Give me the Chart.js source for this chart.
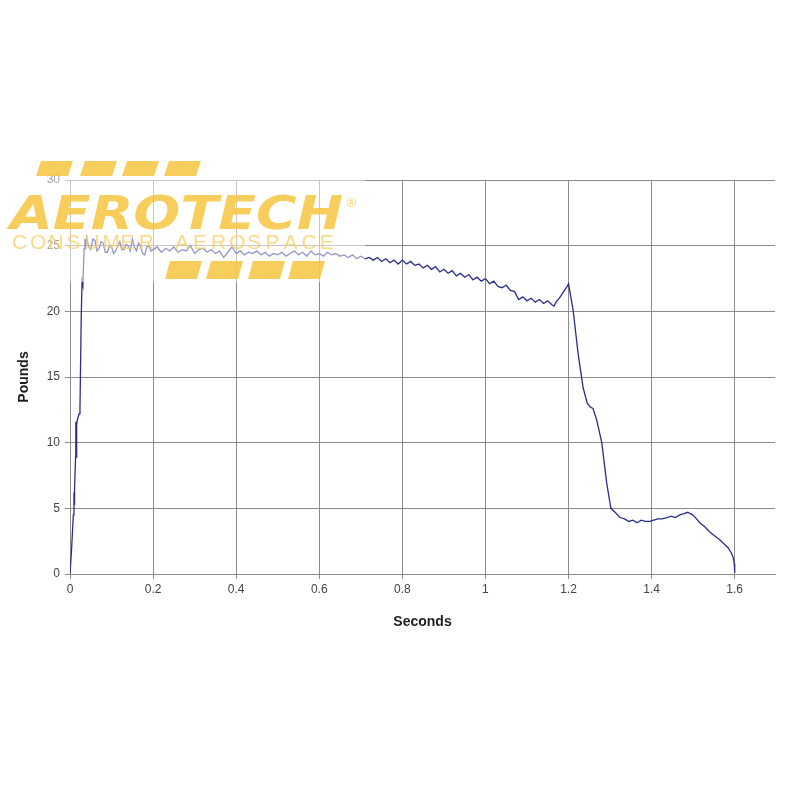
<!DOCTYPE html>
<html>
<head>
<meta charset="utf-8">
<title>Thrust curve</title>
<script src="https://cdn.jsdelivr.net/npm/chart.js@4/dist/chart.umd.min.js"></script>
<style>
  body { margin: 0; background: #fff; }
  canvas { display: block; }
</style>
</head>
<body>
<canvas id="chart" width="800" height="800"></canvas>
<script>
// Thrust samples
const seconds = [
  0, 0.004, 0.008, 0.0095, 0.010, 0.011, 0.0135, 0.014, 0.015, 0.016, 0.018, 0.022, 0.024,
  0.027, 0.029, 0.031, 0.034, 0.036, 0.038,
  0.04, 0.045, 0.05, 0.055, 0.06, 0.065, 0.07, 0.075, 0.08, 0.085, 0.09, 0.095,
  0.10, 0.105, 0.11, 0.115, 0.12, 0.125, 0.13, 0.135, 0.14, 0.145, 0.15, 0.155,
  0.16, 0.165, 0.17, 0.175, 0.18, 0.185, 0.19, 0.195,
  0.20, 0.21, 0.22, 0.23, 0.24, 0.25, 0.26, 0.27, 0.28, 0.29,
  0.30, 0.31, 0.32, 0.33, 0.34, 0.35, 0.36, 0.37, 0.38, 0.39,
  0.40, 0.41, 0.42, 0.43, 0.44, 0.45, 0.46, 0.47, 0.48, 0.49,
  0.50, 0.51, 0.52, 0.53, 0.54, 0.55, 0.56, 0.57, 0.58, 0.59,
  0.60, 0.61, 0.62, 0.63, 0.64, 0.65, 0.66, 0.67, 0.68, 0.69,
  0.70, 0.71, 0.72, 0.73, 0.74, 0.75, 0.76, 0.77, 0.78, 0.79,
  0.80, 0.81, 0.82, 0.83, 0.84, 0.85, 0.86, 0.87, 0.88, 0.89,
  0.90, 0.91, 0.92, 0.93, 0.94, 0.95, 0.96, 0.97, 0.98, 0.99,
  1.00, 1.01, 1.02, 1.03, 1.04, 1.05, 1.06, 1.07, 1.08, 1.09,
  1.10, 1.11, 1.12, 1.13, 1.14, 1.15, 1.16, 1.165, 1.17, 1.18, 1.19, 1.195,
  1.20, 1.211, 1.223, 1.235, 1.245, 1.253, 1.259, 1.268, 1.280, 1.292, 1.302,
  1.312, 1.324, 1.335, 1.345, 1.355, 1.365, 1.375, 1.385, 1.396, 1.405, 1.415,
  1.425, 1.437, 1.447, 1.457, 1.468, 1.478, 1.487, 1.493, 1.499, 1.508, 1.516,
  1.528, 1.540, 1.552, 1.564, 1.574, 1.584, 1.592, 1.596, 1.599, 1.600
];

const pounds = [
  0, 2.0, 4.5, 6.2, 5.3, 6.5, 9.0, 11.6, 8.9, 11.4, 11.8, 12.2, 12.6,
  19.5, 22.3, 22.0, 24.8, 25.5, 25.0,
  25.6, 24.9, 24.7, 25.5, 25.4, 24.6, 24.8, 25.3, 25.2, 24.5, 24.5, 25.0,
  24.9, 24.4, 24.6, 25.0, 25.3, 24.7, 24.7, 25.1, 25.0, 24.6, 25.5, 24.9,
  24.6, 25.2, 24.9, 24.4, 24.3, 24.9, 25.0, 24.6,
  24.7, 24.9, 24.5, 24.8, 24.6, 24.9, 24.5, 24.7, 24.6, 25.0,
  24.4, 24.7, 24.8, 24.5, 24.7, 24.4, 24.6, 24.1, 24.5, 24.9,
  24.4, 24.6, 24.3, 24.5, 24.4, 24.6, 24.3, 24.5, 24.2, 24.4,
  24.3, 24.5, 24.2, 24.4, 24.6, 24.3, 24.5, 24.2, 24.6, 24.3,
  24.4, 24.2, 24.5, 24.3, 24.4, 24.2, 24.3, 24.1, 24.3, 24.0,
  24.2, 24.0, 24.1, 23.9, 24.1, 23.8, 24.0, 23.7, 23.9, 23.6,
  23.9, 23.6, 23.8, 23.5, 23.6, 23.3, 23.5, 23.2, 23.4, 23.0,
  23.2, 22.9, 23.1, 22.7, 22.9, 22.6, 22.8, 22.4, 22.6, 22.3,
  22.5, 22.1, 22.3, 21.9, 21.8, 22.0, 21.6, 21.5, 20.9, 21.1,
  20.8, 21.0, 20.7, 20.9, 20.6, 20.8, 20.5, 20.4, 20.7, 21.1, 21.6, 21.8,
  22.1, 20.1, 16.8, 14.2, 13.0, 12.7, 12.6, 11.7, 10.0, 6.9, 5.0,
  4.7, 4.3, 4.2, 4.0, 4.1, 3.9, 4.1, 4.0, 4.0, 4.1, 4.2,
  4.2, 4.3, 4.4, 4.3, 4.5, 4.6, 4.7, 4.6, 4.5, 4.2, 3.9,
  3.6, 3.2, 2.9, 2.6, 2.3, 2.0, 1.6, 1.3, 0.8, 0.1
];

const secondTicks = [0, 0.2, 0.4, 0.6, 0.8, 1, 1.2, 1.4, 1.6];
const poundTicks = [0, 5, 10, 15, 20, 25, 30];

const gridGray = '#8c8c8c';
const tickFont = { family: 'Liberation Sans, Arial, sans-serif', size: 12 };
const titleFont = { family: 'Liberation Sans, Arial, sans-serif', size: 14, weight: 'bold' };

// Aerotech watermark that sits over the top-left corner of the plot
const watermark = {
  id: 'watermark',
  afterDraw(chart) {
    const ctx = chart.ctx;
    ctx.save();

    ctx.fillStyle = 'rgba(255,255,255,0.5)';
    ctx.fillRect(0, 155, 365, 127);

    const yellow = 'rgba(246,197,64,0.85)';
    ctx.fillStyle = yellow;
    const block = (x, y, w, h, slant) => {
      ctx.beginPath();
      ctx.moveTo(x + slant, y);
      ctx.lineTo(x + w + slant, y);
      ctx.lineTo(x + w, y + h);
      ctx.lineTo(x, y + h);
      ctx.closePath();
      ctx.fill();
    };
    [36, 80, 122, 164].forEach((x) => block(x, 161, 32, 15, 5));
    [165, 206, 248, 288].forEach((x) => block(x, 261, 32, 18, 5));

    // big word, stretched to the width it has in the picture
    ctx.font = 'italic bold 48px "DejaVu Sans", sans-serif';
    ctx.textBaseline = 'alphabetic';
    const word = 'AEROTECH';
    const w = ctx.measureText(word).width;
    ctx.translate(10, 229);
    ctx.scale(333 / w, 0.97);
    ctx.fillText(word, 0, 0);
    ctx.setTransform(1, 0, 0, 1, 0, 0);

    ctx.font = 'bold 13px "DejaVu Sans", sans-serif';
    ctx.fillStyle = 'rgba(246,197,64,0.55)';
    ctx.fillText('®', 345, 207);

    ctx.font = '21px "Liberation Sans", Arial, sans-serif';
    ctx.fillStyle = 'rgba(247,205,95,0.75)';
    Array.from('CONSUMER AEROSPACE').forEach((ch, i) => {
      ctx.fillText(ch, 12 + i * 18.1, 249);
    });

    ctx.restore();
  }
};

const config = {
  type: 'scatter',
  data: {
    datasets: [{
      label: 'Thrust',
      data: seconds.map((s, i) => ({ x: s, y: pounds[i] })),
      showLine: true,
      borderColor: '#2c2c8a',
      borderWidth: 1.3,
      pointRadius: 0,
      tension: 0
    }]
  },
  options: {
    responsive: false,
    animation: false,
    layout: { padding: { top: 180, right: 25, bottom: 161, left: 0 } },
    plugins: {
      legend: { display: false },
      tooltip: { enabled: false }
    },
    scales: {
      x: {
        type: 'linear',
        min: 0,
        max: 1.697,
        afterBuildTicks: (scale) => { scale.ticks = secondTicks.map((v) => ({ value: v })); },
        afterFit: (scale) => { scale.height = 65; },
        grid: { color: gridGray, tickLength: 5, tickColor: gridGray },
        border: { color: gridGray },
        ticks: {
          color: '#444',
          font: tickFont,
          padding: 3,
          maxRotation: 0,
          callback: (v) => String(Math.round(v * 10) / 10)
        },
        title: {
          display: true,
          text: 'Seconds',
          color: '#1e1e1e',
          font: titleFont,
          padding: { top: 0, bottom: 8 }
        }
      },
      y: {
        min: 0,
        max: 30,
        afterBuildTicks: (scale) => { scale.ticks = poundTicks.map((v) => ({ value: v })); },
        afterFit: (scale) => { scale.width = 70; },
        grid: { color: gridGray, tickLength: 5, tickColor: gridGray },
        border: { color: gridGray },
        ticks: {
          color: '#444',
          font: tickFont,
          padding: 5,
          callback: (v) => String(v)
        },
        title: {
          display: true,
          text: 'Pounds',
          color: '#1e1e1e',
          font: titleFont,
          padding: { top: 16, bottom: 0 }
        }
      }
    }
  },
  plugins: [
    {
      id: 'whiteBackground',
      beforeDraw(chart) {
        const ctx = chart.ctx;
        ctx.save();
        ctx.fillStyle = '#fff';
        ctx.fillRect(0, 0, chart.width, chart.height);
        ctx.restore();
      }
    },
    watermark
  ]
};

new Chart(document.getElementById('chart'), config);
</script>
</body>
</html>
